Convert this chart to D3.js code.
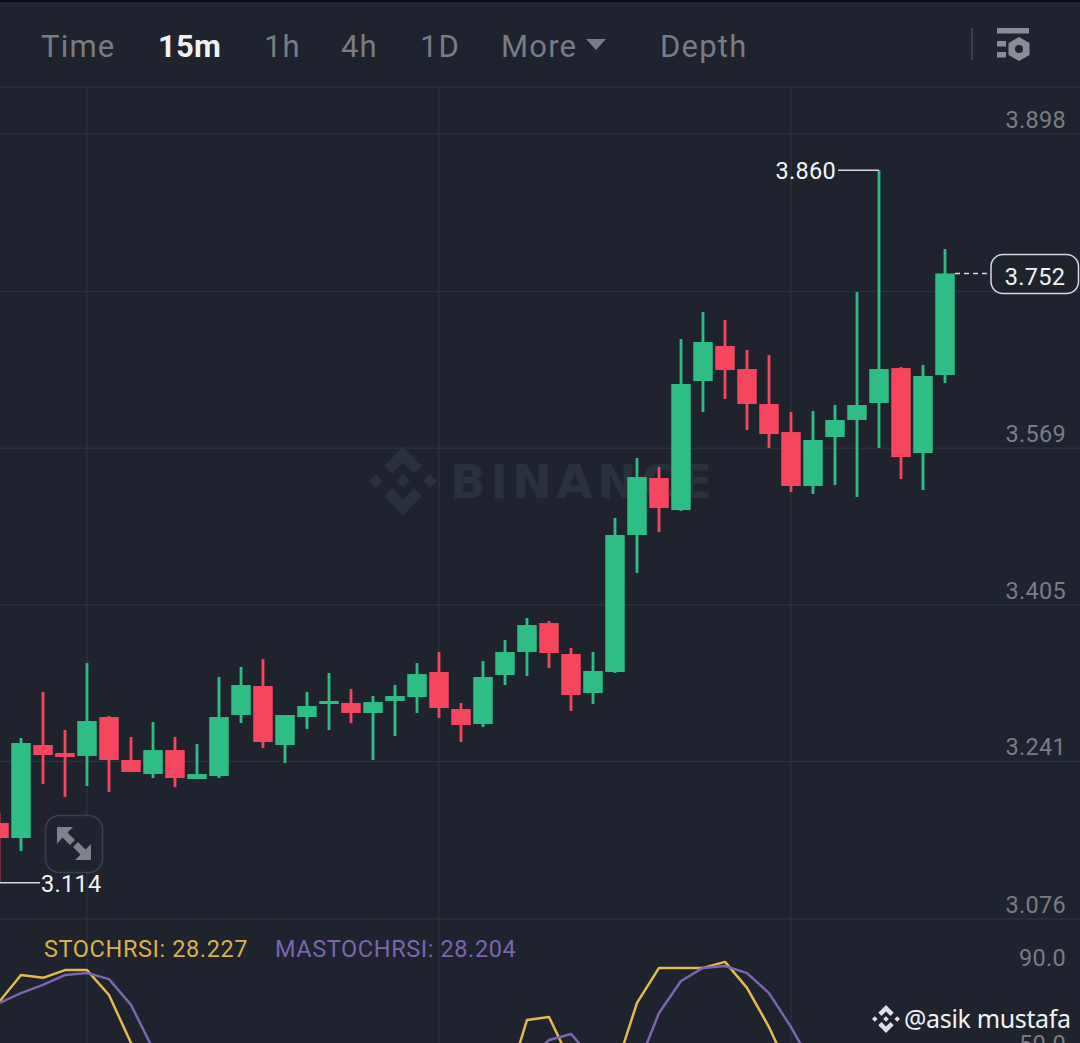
<!DOCTYPE html>
<html>
<head>
<meta charset="utf-8">
<script src="https://cdn.jsdelivr.net/npm/d3@7"></script>
<style>
  html, body { margin: 0; padding: 0; background: #1e232e; overflow: hidden; }
  svg { display: block; font-family: Roboto, sans-serif; }
</style>
</head>
<body>
<svg id="chart"></svg>
<script>
const opens  = [3.1765,3.1608,3.2582,3.2498,3.2467,3.2875,3.2425,3.2278,3.2529,3.2226,3.2257,3.2896,3.32,3.2582,3.2875,3.3011,3.3022,3.2917,3.3043,3.3084,3.3346,3.2959,3.2802,3.3315,3.3556,3.3859,3.3535,3.3126,3.3346,3.4781,3.5378,3.5042,3.6393,3.676,3.6519,3.6152,3.5859,3.5294,3.5807,3.5985,3.6163,3.6529,3.5639,3.6456];
const highs  = [3.187,3.2655,3.3137,3.2739,3.344,3.2885,3.2666,3.2823,3.2666,3.2592,3.3294,3.3399,3.3482,3.2896,3.3137,3.3336,3.3168,3.3095,3.321,3.344,3.3556,3.3022,3.3461,3.3681,3.3912,3.388,3.3597,3.3556,3.4959,3.5587,3.5493,3.6833,3.7116,3.7032,3.6718,3.6665,3.6069,3.6079,3.6142,3.7325,3.860,3.654,3.6561,3.7775];
const lows   = [3.114,3.1472,3.2173,3.2037,3.2153,3.209,3.2299,3.2236,3.2142,3.2226,3.2236,3.2812,3.255,3.2393,3.2749,3.2739,3.2812,3.2425,3.2676,3.2917,3.2865,3.2613,3.277,3.321,3.3304,3.3388,3.2938,3.3011,3.3336,3.4383,3.4812,3.5032,3.6069,3.6205,3.588,3.5692,3.5231,3.521,3.5304,3.5179,3.5692,3.5367,3.5252,3.6372];
const closes = [3.1608,3.2603,3.2477,3.2456,3.2833,3.2425,3.2299,3.2529,3.2236,3.2278,3.2875,3.321,3.2613,3.2896,3.299,3.3043,3.2917,3.3032,3.3095,3.3325,3.2969,3.2791,3.3294,3.3556,3.3838,3.3545,3.3105,3.3357,3.4781,3.5388,3.5063,3.6362,3.6802,3.6508,3.6152,3.5838,3.5294,3.5776,3.5985,3.6142,3.6519,3.5597,3.6446,3.752];

// the indicator runs off the bottom of the picture, null where it cannot be read
const stochRsi   = [76.0,88.6,87.3,90.9,90.9,79.3,57.0,35.1,null,null,null,null,null,null,null,null,null,null,null,null,null,null,null,34.2,67.7,69.1,47.7,null,44.0,75.6,91.9,91.9,91.9,94.7,82.6,64.4,42.1,null,null,null,null,null,null,null];
const maStochRsi = [75.6,80.2,84.0,88.6,89.5,86.7,74.7,54.2,null,null,null,null,null,null,null,null,null,null,null,null,null,null,null,null,48.1,58.4,61.2,49.5,null,45.3,70.9,85.8,91.9,92.8,89.5,80.2,64.4,46.3,null,null,null,null,null,null];

const priceTicks = [3.898, 3.733, 3.569, 3.405, 3.241, 3.076];
const priceLabels = [3.898, 3.569, 3.405, 3.241, 3.076];
const indicatorTicks = [90, 50];
const timeTicks = [4, 20, 36];
const tabs = ["Time", "15m", "1h", "4h", "1D", "More", "Depth"];
const tabX = [41, 158, 264, 341, 420, 501, 660];

const maxPrice = 3.860, minPrice = 3.114, lastPrice = 3.752;

let w = 1080, h = 1043;
const bg = "#1e232e", gridColor = "#2b313c", up = "#2ebd85", down = "#f6465d", muted = "#797c84";

let svg = d3.select("#chart").attr("width", w).attr("height", h);
svg.append("rect").attr("width", w).attr("height", h).attr("fill", bg);
svg.append("rect").attr("width", w).attr("height", 2).attr("fill", "#0b0d12");

let x = d3.scaleLinear().domain([0, 43]).range([-1, 945]);
let y = d3.scaleLinear().domain([3.076, 3.898]).range([919, 134]);
let yInd = d3.scaleLinear().domain([50, 90]).range([1058, 972]);

// grid
let gridH = svg.append("g").attr("transform", "translate(0,-0.5)")
    .call(d3.axisRight(y).tickValues(priceTicks).tickSize(w).tickFormat(""));
gridH.select(".domain").remove();
gridH.selectAll("line").attr("stroke", gridColor).attr("stroke-width", 1.5);

svg.append("line").attr("x1", 0).attr("x2", w).attr("y1", 87).attr("y2", 87)
    .attr("stroke", gridColor).attr("stroke-width", 1.5);

let gridV = svg.append("g").attr("transform", "translate(-0.5,88)")
    .call(d3.axisBottom(x).tickValues(timeTicks).tickSize(h - 88).tickFormat(""));
gridV.select(".domain").remove();
gridV.selectAll("line").attr("stroke", gridColor).attr("stroke-width", 1.5);

function logo(g, cx, cy, r, color) {
    const shapes = [
        [[0,-.2],[.2,0],[0,.2],[-.2,0]],
        [[-.8,-.2],[-.6,0],[-.8,.2],[-1,0]],
        [[.8,-.2],[1,0],[.8,.2],[.6,0]],
        [[0,-1],[.55,-.45],[.32,-.22],[0,-.54],[-.32,-.22],[-.55,-.45]],
        [[0,1],[.55,.45],[.32,.22],[0,.54],[-.32,.22],[-.55,.45]]
    ];
    g.append("g").selectAll("polygon").data(shapes).enter().append("polygon")
        .attr("points", d => d.map(p => [cx + p[0] * r, cy + p[1] * r].join(",")).join(" "))
        .attr("fill", color);
}

// watermark goes under the candles
logo(svg, 403, 481, 34, "#2b313c");
svg.append("text").attr("x", 450).attr("y", 498)
    .attr("font-size", 47).attr("font-weight", 700)
    .attr("font-family", "'DejaVu Sans', sans-serif")
    .attr("textLength", 262).attr("lengthAdjust", "spacing")
    .attr("fill", "#2b313c").text("BINANCE");

// candles
let candles = svg.append("g").selectAll("g").data(opens).enter().append("g")
    .attr("fill", (d, i) => closes[i] >= d ? up : down);
candles.append("rect")
    .attr("x", (d, i) => x(i) - 1.4).attr("width", 2.8)
    .attr("y", (d, i) => y(highs[i]))
    .attr("height", (d, i) => y(lows[i]) - y(highs[i]));
candles.append("rect")
    .attr("x", (d, i) => x(i) - 9.75).attr("width", 19.5)
    .attr("y", (d, i) => y(Math.max(d, closes[i])))
    .attr("height", (d, i) => Math.max(2.5, Math.abs(y(d) - y(closes[i]))));

// price labels
let priceAxis = svg.append("g").attr("transform", "translate(1066,-14)")
    .call(d3.axisLeft(y).tickValues(priceLabels).tickSize(0).tickPadding(0).tickFormat(d3.format(".3f")));
priceAxis.select(".domain").remove();
priceAxis.selectAll("text").attr("fill", muted).attr("font-size", 23.5).attr("letter-spacing", 0.3)
    .attr("font-family", "Roboto, sans-serif");

// max and min callouts
svg.append("path").attr("fill", "none").attr("stroke", "#d8dade").attr("stroke-width", 1.5)
    .attr("d", `M838,${y(maxPrice)}H${x(40)}`);
svg.append("text").attr("x", 836).attr("y", y(maxPrice)).attr("dy", "0.36em").attr("text-anchor", "end")
    .attr("font-size", 23.5).attr("letter-spacing", 0.3).attr("fill", "#f2f3f5").text(maxPrice.toFixed(3));
svg.append("path").attr("fill", "none").attr("stroke", "#d8dade").attr("stroke-width", 1.5)
    .attr("d", `M${x(0)},${y(minPrice)}H40`);
svg.append("text").attr("x", 41).attr("y", y(minPrice) + 1).attr("dy", "0.36em")
    .attr("font-size", 23.5).attr("letter-spacing", 0.3).attr("fill", "#f2f3f5").text(minPrice.toFixed(3));

// last price tag
svg.append("line").attr("x1", x(43) + 10).attr("x2", 991).attr("y1", y(lastPrice)).attr("y2", y(lastPrice))
    .attr("stroke", "#d8dade").attr("stroke-width", 1.5).attr("stroke-dasharray", "5 4");
svg.append("rect").attr("x", 991).attr("y", 254.5).attr("width", 87.5).attr("height", 39).attr("rx", 12)
    .attr("fill", bg).attr("stroke", "#d8dade").attr("stroke-width", 1.5);
svg.append("text").attr("x", 1035).attr("y", 277).attr("dy", "0.36em").attr("text-anchor", "middle")
    .attr("font-size", 23.5).attr("letter-spacing", 0.3).attr("fill", "#f2f3f5").text(lastPrice.toFixed(3));

// expand button
svg.append("rect").attr("x", 45.5).attr("y", 815.5).attr("width", 57).attr("height", 57).attr("rx", 14)
    .attr("fill", bg).attr("stroke", "#3a404b").attr("stroke-width", 1.5);
let arrows = svg.append("g").attr("fill", "#7f828b");
arrows.append("path").attr("d", "M57,827 L73,827 L67.5,832.5 L75,840 L70,845 L62.5,837.5 L57,844 Z");
arrows.append("path").attr("d", "M91,860 L75,860 L80.5,854.5 L73,847 L78,842 L85.5,849.5 L91,844 Z");

// indicator
const lineGen = d3.line().defined(d => d !== null).x((d, i) => x(i)).y(d => yInd(d));
svg.append("path").datum(stochRsi).attr("fill", "none").attr("stroke", "#e6b94f").attr("stroke-width", 2.5)
    .attr("stroke-linejoin", "round").attr("d", lineGen);
svg.append("path").datum(maStochRsi).attr("fill", "none").attr("stroke", "#7b65ad").attr("stroke-width", 2.5)
    .attr("stroke-linejoin", "round").attr("d", lineGen);

svg.append("text").attr("x", 44).attr("y", 957).attr("font-size", 23.5).attr("letter-spacing", 0.6).attr("fill", "#dcb04a")
    .text("STOCHRSI: 28.227");
svg.append("text").attr("x", 275).attr("y", 957).attr("font-size", 23.5).attr("letter-spacing", 0.6).attr("fill", "#7b65ad")
    .text("MASTOCHRSI: 28.204");

let indAxis = svg.append("g").attr("transform", "translate(1066,-14)")
    .call(d3.axisLeft(yInd).tickValues(indicatorTicks).tickSize(0).tickPadding(0).tickFormat(d3.format(".1f")));
indAxis.select(".domain").remove();
indAxis.selectAll("text").attr("fill", muted).attr("font-size", 23.5).attr("letter-spacing", 0.3)
    .attr("font-family", "Roboto, sans-serif");

// header tabs
svg.append("g").selectAll("text").data(tabs).enter().append("text")
    .attr("x", (d, i) => tabX[i]).attr("y", 57)
    .attr("font-size", 31).attr("letter-spacing", d => d === "15m" ? 0.2 : 1.2)
    .attr("font-weight", d => d === "15m" ? 700 : 400)
    .attr("fill", d => d === "15m" ? "#f0f1f3" : muted)
    .text(d => d);
svg.append("path").attr("d", "M586,39H606L596,50Z").attr("fill", muted);
svg.append("line").attr("x1", 972).attr("x2", 972).attr("y1", 28).attr("y2", 60)
    .attr("stroke", "#3a404b").attr("stroke-width", 2);
let icon = svg.append("g").attr("fill", "#8a8d96");
icon.append("rect").attr("x", 997).attr("y", 28).attr("width", 32).attr("height", 5.5);
icon.append("rect").attr("x", 997).attr("y", 41).attr("width", 9).attr("height", 5.5);
icon.append("rect").attr("x", 997).attr("y", 52).attr("width", 9).attr("height", 5.5);
icon.append("polygon").attr("points", "1019,37 1029.5,43 1029.5,55 1019,61 1008.5,55 1008.5,43");
icon.append("circle").attr("cx", 1019).attr("cy", 49).attr("r", 4).attr("fill", bg);

// user stamp
logo(svg, 886, 1019, 14, "#dfe0e3");
svg.append("text").attr("x", 904).attr("y", 1028).attr("font-size", 25)
    .attr("font-family", "'Noto Sans', sans-serif").attr("textLength", 167).attr("lengthAdjust", "spacing")
    .attr("fill", "#f1f2f4").text("@asik mustafa");
</script>
</body>
</html>
